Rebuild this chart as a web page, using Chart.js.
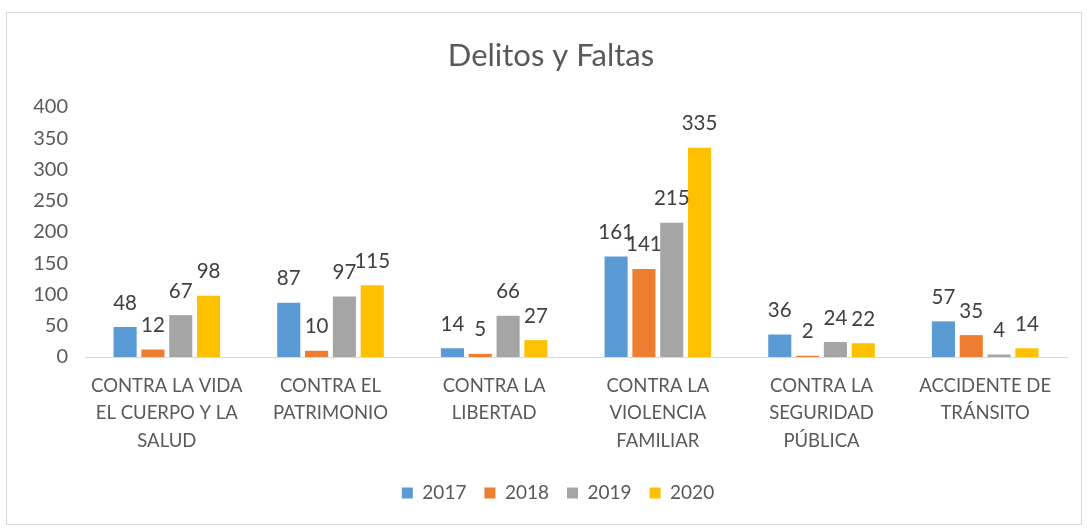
<!DOCTYPE html>
<html>
<head>
<meta charset="utf-8">
<script src="https://cdn.jsdelivr.net/npm/chart.js@4/dist/chart.umd.min.js"></script>
<style>
    html, body { margin: 0; padding: 0; background: #fff; }
    #box {
        position: absolute;
        left: 6px; top: 12px;
        width: 1074px; height: 511px;
        border: 1px solid #d9d9d9;
    }
</style>
</head>
<body>
<div id="box"><canvas id="crimeChart"></canvas></div>
<script>
const categories = [
    ["CONTRA LA VIDA", "EL CUERPO Y LA", "SALUD"],
    ["CONTRA EL", "PATRIMONIO"],
    ["CONTRA LA", "LIBERTAD"],
    ["CONTRA LA", "VIOLENCIA", "FAMILIAR"],
    ["CONTRA LA", "SEGURIDAD", "PÚBLICA"],
    ["ACCIDENTE DE", "TRÁNSITO"]
];
const years = ["2017", "2018", "2019", "2020"];
const values2017 = [48, 87, 14, 161, 36, 57];
const values2018 = [12, 10, 5, 141, 2, 35];
const values2019 = [67, 97, 66, 215, 24, 4];
const values2020 = [98, 115, 27, 335, 22, 14];
const yTicks = [0, 50, 100, 150, 200, 250, 300, 350, 400];

const colors = ["#5B9BD5", "#ED7D31", "#A5A5A5", "#FFC000"];
const fontFamily = "Lato, 'Noto Sans', sans-serif";

// value labels above each bar
const barLabels = {
    id: "barLabels",
    afterDatasetsDraw(chart) {
        const ctx = chart.ctx;
        ctx.save();
        ctx.font = "20.5px " + fontFamily;
        ctx.fillStyle = "#404040";
        ctx.textAlign = "center";
        ctx.textBaseline = "middle";
        chart.data.datasets.forEach((ds, i) => {
            chart.getDatasetMeta(i).data.forEach((bar, j) => {
                ctx.fillText(String(ds.data[j]), bar.x, bar.y - 24);
            });
        });
        ctx.restore();
    }
};

// title and legend sit a bit right of the plot centre in the original
const nudgeBlocks = {
    id: "nudgeBlocks",
    afterLayout(chart) {
        if (chart.titleBlock) {
            chart.titleBlock.left += 14;
            chart.titleBlock.right += 14;
        }
        if (chart.legend) {
            chart.legend.left += 21;
            chart.legend.right += 21;
        }
    }
};

new Chart(document.getElementById("crimeChart"), {
    type: "bar",
    data: {
        labels: categories,
        datasets: [values2017, values2018, values2019, values2020].map((vals, i) => ({
            label: years[i],
            data: vals,
            backgroundColor: colors[i],
            categoryPercentage: 0.68,
            barPercentage: 0.83
        }))
    },
    options: {
        responsive: true,
        maintainAspectRatio: false,
        animation: false,
        layout: { padding: { top: 0, right: 14, bottom: 11.5, left: 0 } },
        plugins: {
            title: {
                display: true,
                text: "Delitos y Faltas",
                color: "#595959",
                font: { family: fontFamily, size: 31, weight: "normal" },
                padding: { top: 24.4, bottom: 32.4 }
            },
            legend: {
                position: "bottom",
                labels: {
                    color: "#595959",
                    font: { family: fontFamily, size: 19 },
                    boxWidth: 11,
                    boxHeight: 11,
                    padding: 18
                }
            },
            tooltip: { enabled: false }
        },
        scales: {
            x: {
                grid: { display: false, drawTicks: false },
                border: { display: true, color: "#d9d9d9", width: 1 },
                ticks: {
                    color: "#595959",
                    font: { family: fontFamily, size: 18.5, lineHeight: 1.486 },
                    padding: 15,
                    maxRotation: 0,
                    autoSkip: false
                },
                afterFit(scale) { scale.height = 108.5; }
            },
            y: {
                min: 0,
                max: 400,
                grid: { display: false, drawTicks: false },
                border: { display: false },
                afterBuildTicks(scale) { scale.ticks = yTicks.map(v => ({ value: v })); },
                ticks: {
                    color: "#595959",
                    font: { family: fontFamily, size: 20 },
                    padding: 17
                },
                afterFit(scale) { scale.width = 78; }
            }
        }
    },
    plugins: [barLabels, nudgeBlocks]
});
</script>
</body>
</html>
